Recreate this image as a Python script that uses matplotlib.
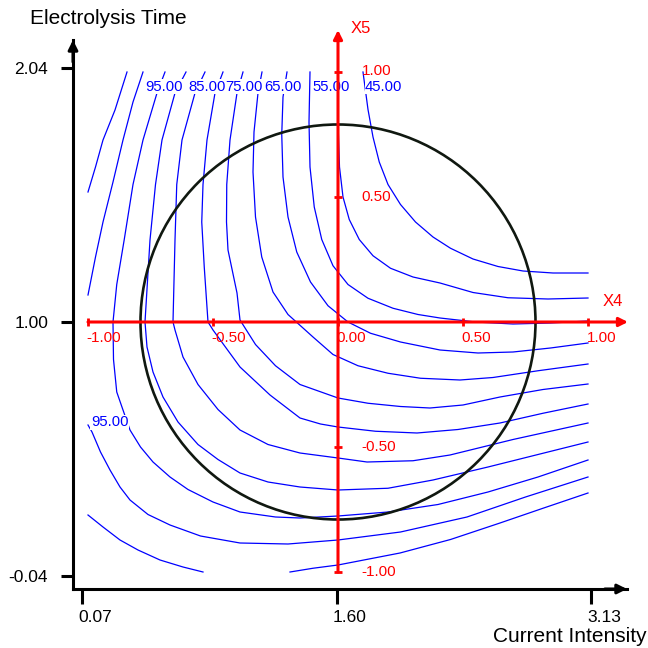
import matplotlib
matplotlib.use("Agg")
import matplotlib.pyplot as plt
import matplotlib.transforms as mtransforms
from matplotlib.patches import Circle

plt.rcParams['font.family'] = ['Liberation Sans', 'DejaVu Sans']

# ---------------- data ----------------
x_title = "Current Intensity"
y_title = "Electrolysis Time"
x_ticks = [0.07, 1.60, 3.13]
y_ticks = [-0.04, 1.00, 2.04]

x4_ticks = [-1.0, -0.5, 0.0, 0.5, 1.0]
x5_ticks = [-1.0, -0.5, 0.5, 1.0]

circle_radius = 0.79

# contour lines in coded units (X4, X5), one list pair per line piece
c45_x4 = [0.10, 0.12, 0.14, 0.165, 0.20, 0.25, 0.31, 0.38, 0.45, 0.54, 0.64, 0.74, 0.86, 1.0]
c45_x5 = [1.0, 0.85, 0.74, 0.64, 0.55, 0.47, 0.40, 0.34, 0.295, 0.252, 0.222, 0.204, 0.196, 0.196]

c50_x4 = [0.0, 0.0, 0.006, 0.02, 0.045, 0.085, 0.14, 0.21, 0.30, 0.408, 0.54, 0.68, 0.84, 1.0]
c50_x5 = [1.0, 0.80, 0.62, 0.50, 0.41, 0.33, 0.265, 0.215, 0.18, 0.156, 0.118, 0.097, 0.092, 0.096]

c55_x4 = [-0.112, -0.116, -0.112, -0.095, -0.065, -0.02, 0.04, 0.12, 0.22, 0.32, 0.408, 0.55, 0.70, 0.85, 1.0]
c55_x5 = [1.0, 0.80, 0.62, 0.46, 0.33, 0.225, 0.15, 0.095, 0.055, 0.03, 0.016, 0.0, -0.008, -0.004, 0.004]

c60_x4 = [-0.204, -0.22, -0.225, -0.22, -0.20, -0.165, -0.11, -0.04, 0.04, 0.13, 0.25, 0.408, 0.56, 0.70, 0.85, 1.0]
c60_x5 = [1.0, 0.90, 0.75, 0.58, 0.42, 0.28, 0.16, 0.065, 0.0, -0.045, -0.08, -0.112, -0.124, -0.12, -0.104, -0.084]

c65_x4 = [-0.304, -0.32, -0.336, -0.34, -0.33, -0.305, -0.26, -0.20, -0.10, -0.02, 0.08, 0.20, 0.33, 0.488, 0.62, 0.80, 1.0]
c65_x5 = [1.0, 0.916, 0.76, 0.60, 0.42, 0.26, 0.12, 0.03, -0.06, -0.13, -0.175, -0.205, -0.225, -0.232, -0.222, -0.195, -0.168]

c70_x4 = [-0.38, -0.404, -0.432, -0.445, -0.446, -0.44, -0.404, -0.392, -0.33, -0.25, -0.152, 0.0, 0.12, 0.25, 0.368, 0.50, 0.648, 0.82, 1.0]
c70_x5 = [1.0, 0.916, 0.728, 0.55, 0.40, 0.288, 0.116, 0.008, -0.09, -0.175, -0.25, -0.304, -0.325, -0.338, -0.344, -0.332, -0.30, -0.27, -0.248]

c75_x4 = [-0.46, -0.492, -0.524, -0.54, -0.545, -0.535, -0.52, -0.50, -0.392, -0.272, -0.152, -0.07, 0.0, 0.15, 0.316, 0.48, 0.648, 0.82, 1.0]
c75_x5 = [1.0, 0.916, 0.728, 0.55, 0.40, 0.22, 0.0, -0.032, -0.18, -0.292, -0.384, -0.408, -0.42, -0.437, -0.444, -0.43, -0.404, -0.365, -0.328]

c80_x4 = [-0.532, -0.572, -0.624, -0.645, -0.652, -0.66, -0.652, -0.62, -0.56, -0.48, -0.392, -0.28, -0.152, 0.0, 0.116, 0.30, 0.448, 0.70, 1.0]
c80_x5 = [1.0, 0.916, 0.728, 0.55, 0.328, 0.0, -0.032, -0.14, -0.25, -0.35, -0.432, -0.49, -0.524, -0.544, -0.56, -0.555, -0.532, -0.47, -0.404]

c85_x4 = [-0.608, -0.652, -0.704, -0.73, -0.752, -0.772, -0.764, -0.74, -0.70, -0.64, -0.56, -0.48, -0.392, -0.28, -0.152, 0.0, 0.20, 0.38, 0.60, 0.80, 1.0]
c85_x5 = [1.0, 0.916, 0.728, 0.55, 0.328, 0.0, -0.10, -0.20, -0.30, -0.40, -0.49, -0.55, -0.604, -0.64, -0.66, -0.672, -0.665, -0.632, -0.58, -0.53, -0.48]

c90_x4 = [-0.692, -0.724, -0.78, -0.82, -0.855, -0.885, -0.90, -0.898, -0.885, -0.86, -0.832, -0.79, -0.74, -0.672, -0.60, -0.50, -0.392, -0.25, -0.152, 0.0, 0.20, 0.40, 0.60, 0.80, 1.0]
c90_x5 = [1.0, 0.916, 0.728, 0.55, 0.33, 0.15, 0.0, -0.15, -0.28, -0.352, -0.432, -0.50, -0.56, -0.62, -0.67, -0.72, -0.76, -0.78, -0.784, -0.776, -0.76, -0.73, -0.68, -0.62, -0.552]

c95a_x4 = [-0.78, -0.82, -0.86, -0.90, -0.94, -0.97, -1.0]
c95a_x5 = [1.0, 0.88, 0.728, 0.56, 0.40, 0.26, 0.108]

c95b_x4 = [-1.0, -0.984, -0.95, -0.912, -0.872, -0.832, -0.76, -0.672, -0.55, -0.392, -0.20, 0.0, 0.25, 0.516, 0.75, 1.0]
c95b_x5 = [-0.412, -0.44, -0.52, -0.592, -0.66, -0.712, -0.77, -0.812, -0.856, -0.884, -0.888, -0.872, -0.84, -0.78, -0.70, -0.62]

c100a_x4 = [-0.844, -0.892, -0.94, -0.97, -1.0]
c100a_x5 = [1.0, 0.848, 0.728, 0.62, 0.52]

c100b_x4 = [-1.0, -0.94, -0.872, -0.80, -0.712, -0.62, -0.54]
c100b_x5 = [-0.772, -0.82, -0.872, -0.912, -0.952, -0.98, -1.0]

c100c_x4 = [-0.192, -0.10, 0.0, 0.248, 0.45, 0.648, 0.82, 1.0]
c100c_x5 = [-1.0, -0.985, -0.972, -0.924, -0.87, -0.804, -0.745, -0.684]

contour_pieces = [
    (c45_x4, c45_x5), (c50_x4, c50_x5), (c55_x4, c55_x5), (c60_x4, c60_x5),
    (c65_x4, c65_x5), (c70_x4, c70_x5), (c75_x4, c75_x5), (c80_x4, c80_x5),
    (c85_x4, c85_x5), (c90_x4, c90_x5), (c95a_x4, c95a_x5), (c95b_x4, c95b_x5),
    (c100a_x4, c100a_x5), (c100b_x4, c100b_x5), (c100c_x4, c100c_x5),
]

# labelled lines: (text, line piece)
top_labels = [("95.00", c95a_x4, c95a_x5), ("85.00", c85_x4, c85_x5),
              ("75.00", c75_x4, c75_x5), ("65.00", c65_x4, c65_x5),
              ("55.00", c55_x4, c55_x5), ("45.00", c45_x4, c45_x5)]
left_labels = [("95.00", c95b_x4, c95b_x5)]

# ---------------- figure ----------------
fig = plt.figure(figsize=(6.48, 6.48), dpi=100)

# outer axes (natural units)
ax0 = fig.add_axes([73 / 648, 1 - 589 / 648, (627 - 73) / 648, (589 - 40) / 648])
ax0.set_xlim(0.016, 3.346)
ax0.set_ylim(-0.093, 2.155)
ax0.patch.set_alpha(0)
for s in ("top", "right"):
    ax0.spines[s].set_visible(False)
for s in ("left", "bottom"):
    ax0.spines[s].set_linewidth(2.2)
ax0.set_xticks(x_ticks, labels=[f"{v:.2f}" for v in x_ticks])
ax0.set_yticks(y_ticks, labels=[f"{v:.2f}" for v in y_ticks])
ax0.tick_params(axis="x", length=11, width=2.2, labelsize=12.5, pad=4)
ax0.tick_params(axis="y", length=9, width=2.2, labelsize=12.5, pad=9)
off = mtransforms.ScaledTranslation(-4 / 100, 0, fig.dpi_scale_trans)
for lbl in ax0.get_xticklabels():
    lbl.set_ha("left")
    lbl.set_transform(lbl.get_transform() + off)
ax0.annotate("", xy=(1.0, 0), xytext=(0.96, 0), xycoords="axes fraction",
             arrowprops=dict(arrowstyle="-|>", color="black", lw=2.2,
                             mutation_scale=14, shrinkA=0, shrinkB=0))
ax0.annotate("", xy=(0, 1.0), xytext=(0, 0.96), xycoords="axes fraction",
             arrowprops=dict(arrowstyle="-|>", color="black", lw=2.2,
                             mutation_scale=14, shrinkA=0, shrinkB=0))
fig.text(30 / 648, 1 - 18 / 648, y_title, ha="left", va="center", fontsize=15)
fig.text(647 / 648, 1 - 637 / 648, x_title, ha="right", va="center", fontsize=15)

# inner axes (coded units)
ax = fig.add_axes([0, 0, 1, 1])
ax.set_xlim(-1.352, 1.24)
ax.set_ylim(-1.304, 1.288)
ax.axis("off")
ax.patch.set_alpha(0)

for xs, ys in contour_pieces:
    ax.plot(xs, ys, color="#0000FF", lw=0.9, zorder=2, solid_joinstyle="round")

lbl_box = dict(boxstyle="square,pad=0.02", fc="white", ec="none")
for txt, xs, ys in top_labels:
    ax.annotate(txt, (xs[0], ys[0]), xytext=(1.5, -10.5), textcoords="offset points",
                ha="left", va="center", color="#0000FF", fontsize=10.7, bbox=lbl_box, zorder=3)
for txt, xs, ys in left_labels:
    ax.annotate(txt, (xs[0], ys[0]), xytext=(2, 2), textcoords="offset points",
                ha="left", va="center", color="#0000FF", fontsize=10.7, bbox=lbl_box, zorder=3)

ax.add_patch(Circle((0, 0), circle_radius, fill=False, ec="#101810", lw=1.9, zorder=4))

# red coded axes
ax.annotate("", xy=(1.16, 0), xytext=(x4_ticks[0], 0),
            arrowprops=dict(arrowstyle="-|>", color="red", lw=2.2, mutation_scale=13,
                            shrinkA=0, shrinkB=0), zorder=5)
ax.annotate("", xy=(0, 1.168), xytext=(0, x5_ticks[0]),
            arrowprops=dict(arrowstyle="-|>", color="red", lw=2.2, mutation_scale=13,
                            shrinkA=0, shrinkB=0), zorder=5)
ax.plot(x4_ticks, [0] * len(x4_ticks), ls="none", marker="|", ms=5.5, mew=2, color="red", zorder=5)
ax.plot([0] * len(x5_ticks), x5_ticks, ls="none", marker="_", ms=5.5, mew=2, color="red", zorder=5)
for t in x4_ticks:
    ax.annotate(f"{t:.2f}", (t, 0), xytext=(-1, -11.5), textcoords="offset points",
                ha="left", va="center", color="red", fontsize=11, zorder=6)
for t in x5_ticks:
    ax.annotate(f"{t:.2f}", (0, t), xytext=(17, 1 if t > 0.9 else 0), textcoords="offset points",
                ha="left", va="center", color="red", fontsize=11, zorder=6)
ax.text(1.06, 0.08, "X4", color="red", fontsize=12, ha="left", va="center", zorder=6)
ax.text(0.05, 1.175, "X5", color="red", fontsize=12, ha="left", va="center", zorder=6)

fig.savefig("out.png", dpi=100)
